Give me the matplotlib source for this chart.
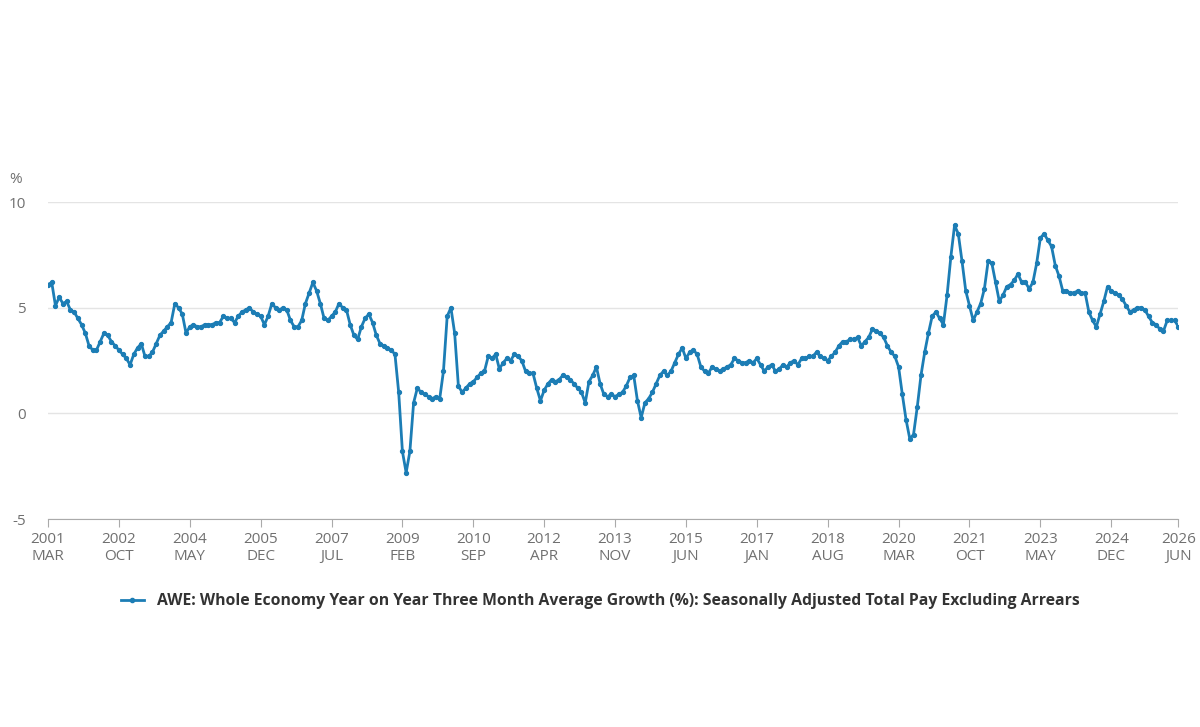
import numpy as np
import matplotlib
matplotlib.use("Agg")
from matplotlib import pyplot as plt
from matplotlib.lines import Line2D

# monthly values, 2001 MAR onwards
awe = [
    6.1, 6.2, 5.1, 5.5, 5.2, 5.3, 4.9, 4.8, 4.5, 4.2,
    3.8, 3.2, 3.0, 3.0, 3.4, 3.8, 3.7, 3.4, 3.2, 3.0, 2.8, 2.6,
    2.3, 2.8, 3.1, 3.3, 2.7, 2.7, 2.9, 3.3, 3.7, 3.9, 4.1, 4.3,
    5.2, 5.0, 4.7, 3.8, 4.1, 4.2, 4.1, 4.1, 4.2, 4.2, 4.2, 4.3,
    4.3, 4.6, 4.5, 4.5, 4.3, 4.6, 4.8, 4.9, 5.0, 4.8, 4.7, 4.6,
    4.2, 4.6, 5.2, 5.0, 4.9, 5.0, 4.9, 4.4, 4.1, 4.1, 4.4, 5.2,
    5.7, 6.2, 5.8, 5.2, 4.5, 4.4, 4.6, 4.8, 5.2, 5.0, 4.9, 4.2,
    3.7, 3.5, 4.1, 4.5, 4.7, 4.3, 3.7, 3.3, 3.2, 3.1, 3.0, 2.8,
    1.0, -1.8, -2.8, -1.8, 0.5, 1.2, 1.0, 0.9, 0.8, 0.7, 0.8, 0.7,
    2.0, 4.6, 5.0, 3.8, 1.3, 1.0, 1.2, 1.4, 1.5, 1.7, 1.9, 2.0,
    2.7, 2.6, 2.8, 2.1, 2.4, 2.6, 2.5, 2.8, 2.7, 2.5, 2.0, 1.9,
    1.9, 1.2, 0.6, 1.1, 1.4, 1.6, 1.5, 1.6, 1.8, 1.7, 1.6, 1.4,
    1.2, 1.0, 0.5, 1.5, 1.8, 2.2, 1.4, 0.9, 0.8, 0.9, 0.8, 0.9,
    1.0, 1.3, 1.7, 1.8, 0.6, -0.2, 0.5, 0.7, 1.0, 1.4, 1.8, 2.0,
    1.8, 2.0, 2.4, 2.8, 3.1, 2.6, 2.9, 3.0, 2.8, 2.2, 2.0, 1.9,
    2.2, 2.1, 2.0, 2.1, 2.2, 2.3, 2.6, 2.5, 2.4, 2.4, 2.5, 2.4,
    2.6, 2.3, 2.0, 2.2, 2.3, 2.0, 2.1, 2.3, 2.2, 2.4, 2.5, 2.3,
    2.6, 2.6, 2.7, 2.7, 2.9, 2.7, 2.6, 2.5, 2.7, 2.9, 3.2, 3.4,
    3.4, 3.5, 3.5, 3.6, 3.2, 3.4, 3.6, 4.0, 3.9, 3.8, 3.6, 3.2,
    2.9, 2.7, 2.2, 0.9, -0.3, -1.2, -1.0, 0.3, 1.8, 2.9, 3.8, 4.6,
    4.8, 4.5, 4.2, 5.6, 7.4, 8.9, 8.5, 7.2, 5.8, 5.1, 4.4, 4.8,
    5.2, 5.9, 7.2, 7.1, 6.2, 5.3, 5.6, 6.0, 6.1, 6.3, 6.6, 6.2,
    6.2, 5.9, 6.2, 7.1, 8.3, 8.5, 8.2, 7.9, 7.0, 6.5, 5.8, 5.8,
    5.7, 5.7, 5.8, 5.7, 5.7, 4.8, 4.4, 4.1, 4.7, 5.3, 6.0, 5.8,
    5.7, 5.6, 5.4, 5.1, 4.8, 4.9, 5.0, 5.0, 4.9, 4.6, 4.3, 4.2,
    4.0, 3.9, 4.4, 4.4, 4.4, 4.1,
]
tick_months = [0, 19, 38, 57, 76, 95, 114, 133, 152, 171, 190, 209, 228, 247, 266, 285, 303]
tick_labels = ["2001\nMAR", "2002\nOCT", "2004\nMAY", "2005\nDEC", "2007\nJUL", "2009\nFEB",
               "2010\nSEP", "2012\nAPR", "2013\nNOV", "2015\nJUN", "2017\nJAN", "2018\nAUG",
               "2020\nMAR", "2021\nOCT", "2023\nMAY", "2024\nDEC", "2026\nJUN"]
label = ("AWE: Whole Economy Year on Year Three Month Average Growth (%): "
         "Seasonally Adjusted Total Pay Excluding Arrears")

blue = "#1c7db5"
grey = "#707070"
plt.rcParams["font.family"] = ["Open Sans", "DejaVu Sans"]
plt.rcParams["axes.unicode_minus"] = False

fig = plt.figure(figsize=(12, 7.27), dpi=100)
ax = fig.add_axes([0.04, 0.286, 0.942, 0.436])
x = np.arange(len(awe))
ax.plot(x, awe, "-o", color=blue, lw=2, ms=2.8)

ax.set_xlim(0, 303)
ax.set_ylim(-5, 10)
ax.set_yticks([-5, 0, 5, 10])
ax.set_xticks(tick_months)
ax.set_xticklabels(tick_labels)
ax.tick_params(axis="y", length=0, pad=16, labelsize=11, labelcolor=grey)
ax.tick_params(axis="x", length=6, color="#aaaaaa", labelsize=11, labelcolor=grey)
ax.grid(axis="y", color="#e4e4e4", lw=1)
ax.set_axisbelow(True)
for s in ["top", "right", "left"]:
    ax.spines[s].set_visible(False)
ax.spines["bottom"].set_color("#aaaaaa")
fig.text(0.008, 0.748, "%", fontsize=11, color=grey)

handle = Line2D([], [], color=blue, lw=2, marker="o", ms=3)
fig.legend([handle], [label], loc="center", bbox_to_anchor=(0.5, 0.173), frameon=False,
           prop={"weight": "bold", "size": 11.3}, labelcolor="#333333", handlelength=1.5)

plt.savefig("out.png", dpi=100)
